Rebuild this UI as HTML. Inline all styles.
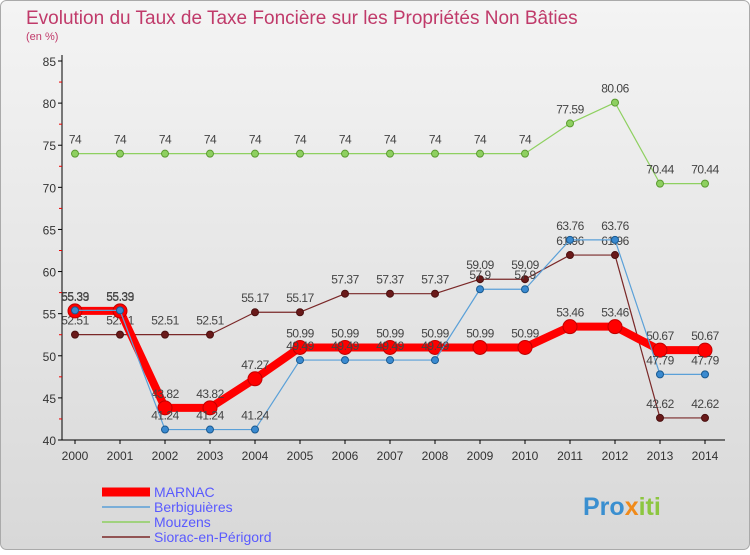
<!DOCTYPE html>
<html><head><meta charset="utf-8"><style>
body{margin:0;width:750px;height:550px;overflow:hidden;font-family:"Liberation Sans",sans-serif}
</style></head><body>
<svg width="750" height="550" xmlns="http://www.w3.org/2000/svg">
<defs><linearGradient id="bg" x1="0" y1="0" x2="0" y2="1"><stop offset="0" stop-color="#f4f4f4"/><stop offset="1" stop-color="#d8d8d8"/></linearGradient></defs>
<rect x="0.5" y="0.5" width="749" height="549" rx="6" fill="url(#bg)" stroke="#aaa"/>
<text x="26" y="24" font-size="19" fill="#c03a6a">Evolution du Taux de Taxe Foncière sur les Propriétés Non Bâties</text>
<text x="26" y="40" font-size="11" fill="#c03a6a">(en %)</text>
<g id="axes"></g><g id="series"></g><g id="legend"></g>
<text x="583" y="515" font-size="25" font-weight="bold" fill="#3a8fd0">Pro<tspan fill="#f08a1a">x</tspan><tspan fill="#8cc63f">iti</tspan></text>
</svg>
<script>
const years=[2000,2001,2002,2003,2004,2005,2006,2007,2008,2009,2010,2011,2012,2013,2014];
const yTicks=[40,45,50,55,60,65,70,75,80,85];
const marnac=[55.33,55.33,43.82,43.82,47.27,50.99,50.99,50.99,50.99,50.99,50.99,53.46,53.46,50.67,50.67];
const berbig=[55.39,55.39,41.24,41.24,41.24,49.49,49.49,49.49,49.49,57.9,57.9,63.76,63.76,47.79,47.79];
const mouzens=[74,74,74,74,74,74,74,74,74,74,74,77.59,80.06,70.44,70.44];
const siorac=[52.51,52.51,52.51,52.51,55.17,55.17,57.37,57.37,57.37,59.09,59.09,61.96,61.96,42.62,42.62];
const names=["MARNAC","Berbiguières","Mouzens","Siorac-en-Périgord"];
const NS="http://www.w3.org/2000/svg";
const X=i=>75+i*45, Y=v=>440-(v-40)*(379/45);
function mk(p,t,a){const e=document.createElementNS(NS,t);for(const k in a)e.setAttribute(k,a[k]);p.appendChild(e);return e;}
const ax=document.getElementById('axes');
mk(ax,'line',{x1:62,y1:55,x2:62,y2:440,stroke:'#000'});
mk(ax,'line',{x1:62,y1:440,x2:725,y2:440,stroke:'#000'});
yTicks.forEach(v=>{
 const t=mk(ax,'text',{x:56,y:Y(v)+5,'font-size':12,fill:'#333','text-anchor':'end'});t.textContent=v;
 
 
 mk(ax,'line',{x1:58,y1:Y(v),x2:62,y2:Y(v),stroke:'#000'});
 if(v<85)mk(ax,'line',{x1:59,y1:Y(v+2.5),x2:62,y2:Y(v+2.5),stroke:'#e00'});
});
years.forEach((y,i)=>{
 const t=mk(ax,'text',{x:X(i),y:460,'font-size':12,fill:'#333','text-anchor':'middle'});t.textContent=y;
 
 
 mk(ax,'line',{x1:X(i),y1:440,x2:X(i),y2:444,stroke:'#000'});
});
const sg=document.getElementById('series');
function draw(data,color,w,r,name,fill,stroke){
 const g=mk(sg,'g',{});
 
 
 mk(g,'polyline',{points:data.map((v,i)=>X(i)+','+Y(v)).join(' '),fill:'none',stroke:color,'stroke-width':w,'stroke-linejoin':'round'});
 data.forEach((v,i)=>{
  const c=mk(g,'circle',{cx:X(i),cy:Y(v),r:r,fill:fill,stroke:stroke,'stroke-width':1});
  
  
  const t=mk(g,'text',{x:X(i),y:Y(v)-10,'font-size':12,fill:'#444','text-anchor':'middle','letter-spacing':'-0.5'});t.textContent=v;
 });
}
draw(siorac,'#7a2828',1.2,3.5,'siorac-series','#6a1a1a','#4a1010');
draw(mouzens,'#8ed060',1.2,3.5,'mouzens-series','#8ed060','#5a9a30');
draw(marnac,'#ff0000',8,7,'marnac-series','#ff0000','#c00000');
draw(berbig,'#5aa0d8',1.2,3.5,'berbiguieres-series','#3a8ad0','#1a5a90');
const lg=document.getElementById('legend');
const lc=[['#ff0000',9],['#5aa0d8',1.5],['#8ed060',1.5],['#7a2828',1.5]];
names.forEach((n,i)=>{
 const y=492+i*15;
 const l=mk(lg,'line',{x1:102,y1:y,x2:150,y2:y,stroke:lc[i][0],'stroke-width':lc[i][1]});
 
 
 const t=mk(lg,'text',{x:154,y:y+5,'font-size':14,fill:'#5a5aff'});t.textContent=n;
 
 
});
</script>
</body></html>
